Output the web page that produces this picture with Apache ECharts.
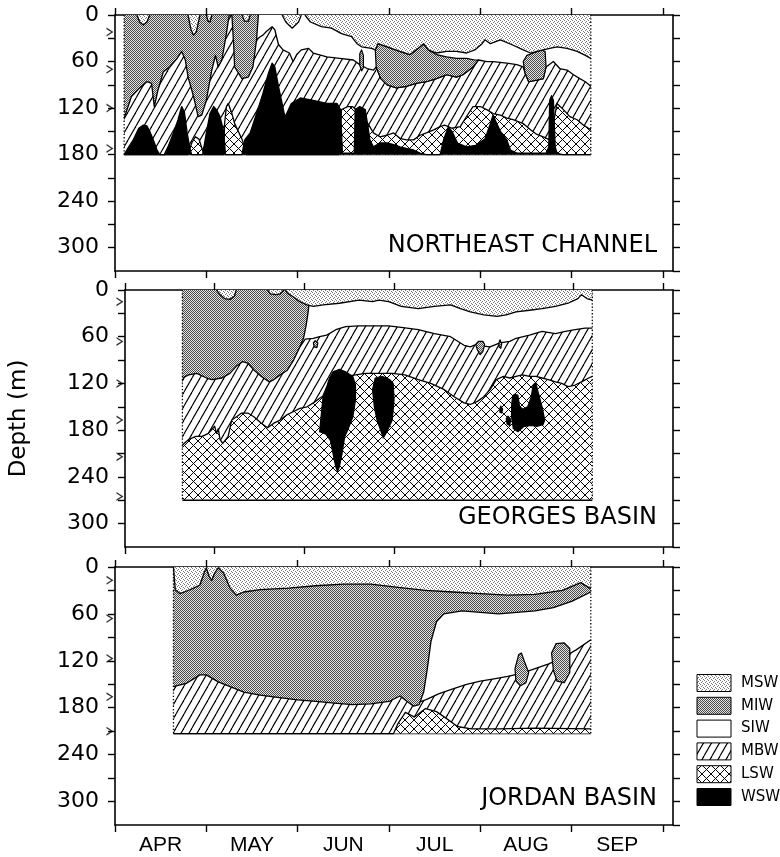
<!DOCTYPE html>
<html>
<head>
<meta charset="utf-8">
<script src="https://cdn.jsdelivr.net/npm/echarts@6/dist/echarts.min.js"></script>
<style>
  html, body { margin: 0; padding: 0; background: #fff; }
  #chart { width: 780px; height: 857px; }
</style>
</head>
<body>
<div id="chart"></div>
<script>
// ---- axis labels ----
const monthLabels = ['APR', 'MAY', 'JUN', 'JUL', 'AUG', 'SEP'];
const monthStarts = [0, 1, 2, 3, 4, 5, 6];          // x in months after 1 April
const depthTickStep = 30;
const depthLabelStep = 60;
const panelNames = ['NORTHEAST CHANNEL', 'GEORGES BASIN', 'JORDAN BASIN'];
const waterMasses = ['MSW', 'MIW', 'SIW', 'MBW', 'LSW', 'WSW'];

// ---- sampled span of each section: [first month, last month, deepest sample (m)] ----
const necSpan = [0.10, 5.21, 180];
const geoSpan = [0.64, 5.21, 270];
const jorSpan = [0.64, 5.21, 213];

// ---- instrument depths marked on the depth axis (m) ----
const necInstruments = [22, 70, 120, 172];
const geoInstruments = [15, 66, 120, 167, 214, 265];
const jorInstruments = [17, 66, 117, 166, 210];

// ================= Northeast Channel =================
// top of the Labrador Slope Water layer [month, depth m]
const necLswTop = [[0.10,180],[0.80,180],[0.84,165],[0.88,157],[0.92,160],[0.96,175],[0.98,180],[1.19,180],[1.20,140],[1.22,118],[1.24,114],[1.28,127],[1.31,140],[1.35,150],[1.39,160],[1.42,170],[1.44,180],[2.45,180],[2.48,122],[2.55,118],[2.60,118],[2.64,122],[2.77,140],[2.83,152],[2.90,157],[2.98,155],[3.05,152],[3.12,159],[3.19,161],[3.27,161],[3.34,155],[3.41,152],[3.49,148],[3.56,144],[3.61,142],[3.69,146],[3.78,144],[3.87,127],[3.92,118],[4.00,118],[4.07,122],[4.14,127],[4.22,129],[4.29,133],[4.36,135],[4.47,140],[4.55,148],[4.62,154],[4.69,157],[4.76,161],[4.80,140],[4.84,114],[4.91,122],[4.98,131],[5.06,135],[5.13,142],[5.21,148]];
// top of the Warm Slope Water layer
const necWswTop = [[0.10,180],[0.14,172],[0.20,161],[0.26,146],[0.31,142],[0.35,143],[0.38,150],[0.42,161],[0.46,174],[0.49,180],[0.54,180],[0.58,170],[0.64,152],[0.69,135],[0.73,118],[0.76,125],[0.79,152],[0.82,172],[0.84,180],[0.96,180],[1.00,152],[1.04,127],[1.08,118],[1.11,122],[1.15,131],[1.19,150],[1.21,180],[1.39,180],[1.42,161],[1.48,152],[1.55,127],[1.62,101],[1.68,75],[1.72,62],[1.75,67],[1.79,92],[1.83,114],[1.86,131],[1.88,127],[1.93,114],[2.03,107],[2.17,110],[2.32,114],[2.43,114],[2.47,122],[2.49,178],[2.62,178],[2.63,122],[2.68,118],[2.74,122],[2.77,144],[2.79,161],[2.83,170],[2.90,165],[2.98,165],[3.05,167],[3.12,170],[3.19,172],[3.27,174],[3.34,178],[3.41,180],[3.56,180],[3.60,160],[3.65,144],[3.69,150],[3.75,165],[3.85,170],[3.95,168],[4.05,160],[4.11,140],[4.14,129],[4.18,140],[4.22,150],[4.29,161],[4.33,174],[4.40,178],[4.72,178],[4.75,170],[4.76,110],[4.78,104],[4.80,110],[4.82,170],[4.84,178],[4.90,180],[5.21,180]];
// bottom of the Shelf Intermediate Water (top of Maine Bottom Water)
const necSiwBottom = [[1.55,32],[1.59,28],[1.62,26],[1.66,21],[1.72,15],[1.75,19],[1.79,38],[1.84,45],[1.91,49],[1.95,60],[1.99,51],[2.04,45],[2.12,43],[2.17,49],[2.32,54],[2.46,56],[2.61,58],[2.68,64],[2.76,69],[2.83,71],[2.86,67],[2.91,82],[2.98,90],[3.08,94],[3.19,92],[3.30,88],[3.41,86],[3.52,82],[3.63,77],[3.74,80],[3.81,77],[3.92,67],[3.98,58],[4.07,60],[4.14,60],[4.29,62],[4.40,64],[4.47,67],[4.49,75],[4.53,86],[4.62,84],[4.69,82],[4.72,67],[4.80,60],[4.87,69],[4.95,71],[5.02,77],[5.09,82],[5.15,86],[5.21,92]];
// bottom of the Maine Intermediate Water in spring
const necMiwBottom = [[0.10,133],[0.18,105],[0.27,94],[0.35,86],[0.40,88],[0.43,118],[0.47,97],[0.53,73],[0.60,67],[0.68,56],[0.73,47],[0.77,58],[0.80,80],[0.86,105],[0.91,131],[0.95,129],[1.00,110],[1.06,71],[1.10,52],[1.13,67],[1.17,58],[1.22,24],[1.25,0],[1.28,0],[1.30,40],[1.31,67],[1.39,82],[1.46,80],[1.51,67],[1.55,32],[1.57,0]];
// Maine Intermediate Water lenses in summer (closed outlines)
const necMiwLens1 = [[2.85,45],[2.88,37],[2.98,41],[3.12,47],[3.23,51],[3.32,43],[3.38,37],[3.43,45],[3.52,51],[3.63,54],[3.74,56],[3.85,56],[3.94,58],[3.98,58],[3.92,67],[3.81,77],[3.74,80],[3.63,77],[3.52,82],[3.41,86],[3.30,88],[3.19,92],[3.08,94],[2.98,90],[2.91,82],[2.86,67]];
const necMiwLens2 = [[4.47,60],[4.51,52],[4.58,49],[4.67,45],[4.71,47],[4.72,67],[4.69,82],[4.62,84],[4.53,86],[4.49,75]];
const necMiwLens3 = [[2.68,50],[2.70,45],[2.72,52],[2.72,68],[2.70,72],[2.68,65]];
// bottom of the Maine Surface Water
const necMswPockets = [
  [[0.24,0],[0.27,9],[0.31,13],[0.35,9],[0.38,0]],
  [[0.80,0],[0.83,18],[0.86,26],[0.89,22],[0.93,0]],
  [[1.00,0],[1.02,8],[1.04,9],[1.06,0]],
  [[1.39,0],[1.42,8],[1.46,8],[1.48,0]],
  [[1.83,0],[1.87,9],[1.94,17],[2.01,9],[2.04,0]]
];
const necMswBottom = [[2.08,0],[2.14,9],[2.26,15],[2.37,17],[2.48,24],[2.59,28],[2.65,37],[2.70,41],[2.81,43],[2.85,45],[2.88,37],[2.98,41],[3.12,47],[3.23,51],[3.32,43],[3.38,37],[3.43,45],[3.52,49],[3.63,47],[3.74,47],[3.85,49],[3.94,45],[4.02,37],[4.05,32],[4.11,37],[4.22,32],[4.36,39],[4.47,45],[4.55,49],[4.62,47],[4.69,45],[4.76,43],[4.84,41],[4.95,43],[5.06,47],[5.15,52],[5.21,56]];

// ================= Georges Basin =================
const geoLswTop = [[0.64,199],[0.71,192],[0.79,188],[0.86,188],[0.93,184],[1.00,175],[1.02,184],[1.04,178],[1.06,192],[1.09,197],[1.15,188],[1.19,167],[1.24,163],[1.30,158],[1.37,158],[1.44,163],[1.52,171],[1.59,177],[1.66,171],[1.73,167],[1.81,160],[1.88,156],[1.95,152],[2.03,150],[2.10,145],[2.17,139],[2.25,133],[2.32,124],[2.39,115],[2.46,111],[2.57,109],[2.68,107],[2.83,107],[2.98,107],[3.12,109],[3.27,115],[3.41,120],[3.56,128],[3.67,137],[3.78,145],[3.85,147],[3.93,143],[4.00,137],[4.07,128],[4.14,115],[4.22,111],[4.29,113],[4.36,111],[4.43,109],[4.51,111],[4.58,111],[4.65,113],[4.72,115],[4.80,118],[4.87,120],[4.94,124],[5.02,122],[5.09,118],[5.17,113],[5.21,111]];
const geoSiwBottom = [[1.95,73],[2.01,63],[2.10,62],[2.17,60],[2.25,58],[2.35,51],[2.46,47],[2.61,46],[2.76,46],[2.94,46],[3.08,48],[3.27,51],[3.45,56],[3.63,60],[3.78,71],[3.85,73],[3.91,70],[4.00,72],[4.07,73],[4.18,68],[4.29,66],[4.36,62],[4.51,58],[4.65,53],[4.80,56],[4.91,53],[5.02,51],[5.13,49],[5.21,49]];
const geoMiwBottom = [[0.64,113],[0.71,109],[0.80,107],[0.91,113],[0.97,115],[1.08,113],[1.17,107],[1.24,98],[1.31,92],[1.37,94],[1.44,103],[1.52,111],[1.61,118],[1.66,115],[1.73,109],[1.81,103],[1.88,90],[1.95,73],[1.99,62],[2.02,45],[2.04,30],[2.05,20]];
const geoMswPockets = [
  [[1.02,0],[1.06,6],[1.11,11],[1.17,12],[1.22,8],[1.24,0]],
  [[1.59,0],[1.62,5],[1.68,6],[1.73,5],[1.77,0]]
];
const geoMswBottom = [[1.79,0],[1.81,4],[1.88,9],[1.95,15],[2.03,19],[2.10,21],[2.21,19],[2.39,17],[2.61,13],[2.76,15],[2.83,13],[2.94,15],[3.08,21],[3.27,24],[3.45,21],[3.63,19],[3.74,24],[3.85,28],[4.00,32],[4.15,34],[4.25,32],[4.36,28],[4.51,26],[4.65,24],[4.80,21],[4.94,17],[5.05,11],[5.09,6],[5.15,11],[5.21,13]];
const geoMiwLenses = [
  [[2.10,68],[2.12,65],[2.15,68],[2.14,74],[2.11,73]],
  [[3.91,70],[3.94,66],[3.99,66],[4.01,70],[3.99,79],[3.96,83],[3.93,77]],
  [[4.17,68],[4.18,64],[4.20,69],[4.19,75],[4.17,73]]
];
const geoWswLenses = [
  [[2.17,182],[2.19,158],[2.21,135],[2.25,124],[2.28,113],[2.32,105],[2.39,102],[2.46,105],[2.54,111],[2.57,122],[2.57,141],[2.54,163],[2.49,178],[2.45,188],[2.42,210],[2.39,227],[2.37,233],[2.35,227],[2.32,210],[2.29,193],[2.24,185]],
  [[2.76,128],[2.79,113],[2.87,111],[2.92,113],[2.96,116],[2.99,120],[3.00,141],[2.98,167],[2.92,182],[2.88,190],[2.85,180],[2.81,167],[2.78,150]],
  [[4.32,137],[4.34,134],[4.38,135],[4.40,150],[4.44,153],[4.49,150],[4.53,137],[4.55,122],[4.58,119],[4.61,133],[4.65,150],[4.68,167],[4.66,173],[4.60,175],[4.53,174],[4.45,175],[4.38,182],[4.33,178],[4.31,163],[4.31,150]],
  [[4.18,152],[4.19,149],[4.21,153],[4.20,158],[4.18,157]],
  [[4.25,165],[4.27,162],[4.30,166],[4.29,174],[4.26,172]]
];

// ================= Jordan Basin =================
const jorLswTop = [[0.64,213],[3.05,213],[3.10,200],[3.18,186],[3.28,192],[3.40,181],[3.52,185],[3.62,193],[3.75,204],[3.90,207],[4.20,207],[4.60,206],[5.21,207]];
const jorSiwBottom = [[3.25,176],[3.40,170],[3.55,162],[3.70,156],[3.85,150],[4.00,146],[4.15,143],[4.30,140],[4.45,136],[4.60,130],[4.75,124],[4.90,116],[5.05,106],[5.21,93]];
const jorMiwBottom = [[0.64,153],[0.78,149],[0.93,138],[1.00,138],[1.13,147],[1.26,153],[1.41,160],[1.59,164],[1.80,167],[2.00,170],[2.20,172],[2.40,174],[2.60,176],[2.80,175],[3.00,172],[3.12,165],[3.20,172],[3.27,178],[3.33,176],[3.38,160],[3.42,130],[3.46,95],[3.52,70],[3.60,60],[3.80,56],[4.00,58],[4.20,60],[4.40,58],[4.60,56],[4.80,52],[5.00,44],[5.21,32]];
const jorMiwLenses = [
  [[4.38,130],[4.42,112],[4.45,110],[4.48,120],[4.53,135],[4.50,148],[4.44,152],[4.39,146]],
  [[4.78,110],[4.83,98],[4.92,97],[4.98,104],[4.98,135],[4.92,148],[4.84,146],[4.80,132]]
];
const jorMswBottom = [[0.64,0],[0.66,29],[0.71,34],[0.78,31],[0.86,27],[0.93,23],[0.98,6],[1.00,1],[1.03,12],[1.06,17],[1.09,8],[1.13,1],[1.19,8],[1.26,27],[1.33,36],[1.41,32],[1.59,29],[1.90,27],[2.20,24],[2.50,22],[2.80,22],[3.10,26],[3.40,30],[3.70,32],[4.00,34],[4.30,36],[4.60,35],[4.90,30],[5.10,20],[5.21,28]];

// ---------------- fill patterns ----------------
function tile(w, h, draw) {
  const c = document.createElement('canvas');
  c.width = w; c.height = h;
  const ctx = c.getContext('2d');
  draw(ctx, w, h);
  return { image: c, repeat: 'repeat' };
}
const fillMSW = tile(4, 4, (ctx) => {
  ctx.fillStyle = '#ffffff'; ctx.fillRect(0, 0, 4, 4);
  ctx.fillStyle = '#7a7a7a';
  [[0,0],[2,1],[1,2],[3,3]].forEach(([x, y]) => ctx.fillRect(x, y, 1, 1));
});
const fillMIW = tile(2, 2, (ctx) => {
  ctx.fillStyle = '#e4e4e4'; ctx.fillRect(0, 0, 2, 2);
  ctx.fillStyle = '#4a4a4a'; ctx.fillRect(0, 0, 1, 1); ctx.fillRect(1, 1, 1, 1);
});
const fillSIW = '#ffffff';
const fillMBW = tile(8, 14, (ctx, w, h) => {
  ctx.fillStyle = '#ffffff'; ctx.fillRect(0, 0, w, h);
  ctx.strokeStyle = '#000'; ctx.lineWidth = 1.15;
  for (let k = -1; k <= 1; k++) {
    ctx.beginPath(); ctx.moveTo(k * w, h); ctx.lineTo(k * w + w, 0); ctx.stroke();
  }
});
const fillLSW = tile(9, 9, (ctx, w, h) => {
  ctx.fillStyle = '#ffffff'; ctx.fillRect(0, 0, w, h);
  ctx.strokeStyle = '#000'; ctx.lineWidth = 1;
  for (let k = -1; k <= 1; k++) {
    ctx.beginPath(); ctx.moveTo(k * w, 0); ctx.lineTo(k * w + w, h); ctx.stroke();
    ctx.beginPath(); ctx.moveTo(k * w, h); ctx.lineTo(k * w + w, 0); ctx.stroke();
  }
});
const fillWSW = '#000000';
const massFills = [fillMSW, fillMIW, fillSIW, fillMBW, fillLSW, fillWSW];

// ---------------- layout ----------------
const INK = '#000';
const X_MAX = 6.11;
const DEPTH_MAX = 330;
const panelTops = [15, 290, 567];
const panelHeights = [256, 257, 258];
const plotLeft = 115, plotWidth = 558;

let zCounter = 10;
const series = [];

// area between a boundary line and a fixed depth (0 = surface, or the section floor)
function boundaryArea(gi, pts, originDepth, fill) {
  series.push({
    type: 'custom', coordinateSystem: 'cartesian2d',
    xAxisIndex: gi * 2, yAxisIndex: gi * 2,
    silent: true, clip: true, z: zCounter++, data: [0],
    renderItem: (params, api) => {
      const line = pts.map(p => api.coord(p));
      const close = [api.coord([pts[pts.length - 1][0], originDepth]), api.coord([pts[0][0], originDepth])];
      return {
        type: 'group', children: [
          { type: 'polygon', shape: { points: line.concat(close) }, style: { fill: fill, stroke: null } },
          { type: 'polyline', shape: { points: line }, style: { fill: null, stroke: INK, lineWidth: 1.3, lineJoin: 'round' } }
        ]
      };
    }
  });
}
// closed lens of one water mass embedded in another
function lens(gi, pts, fill) {
  series.push({
    type: 'custom', coordinateSystem: 'cartesian2d',
    xAxisIndex: gi * 2, yAxisIndex: gi * 2,
    silent: true, clip: true, z: zCounter++, data: [0],
    renderItem: (params, api) => ({
      type: 'polygon', shape: { points: pts.map(p => api.coord(p)) },
      style: { fill: fill, stroke: INK, lineWidth: 1.2, lineJoin: 'round' }
    })
  });
}
// dotted vertical edges of the sampled section
function sectionEdges(gi, span) {
  series.push({
    type: 'custom', coordinateSystem: 'cartesian2d',
    xAxisIndex: gi * 2, yAxisIndex: gi * 2,
    silent: true, clip: true, z: zCounter++, data: [0],
    renderItem: (params, api) => ({
      type: 'group', children: [span[0], span[1]].map(x => ({
        type: 'line',
        shape: { x1: api.coord([x, 0])[0], y1: api.coord([x, 0])[1], x2: api.coord([x, span[2]])[0], y2: api.coord([x, span[2]])[1] },
        style: { stroke: INK, lineWidth: 1.3, lineDash: [1.3, 2] }
      }))
    })
  });
}
function instrumentMarks(gi, depths) {
  series.push({
    type: 'scatter', xAxisIndex: gi * 2, yAxisIndex: gi * 2, clip: false,
    silent: true, z: 50,
    symbol: 'path://M0,0 L10,5 L0,10 L0,8.2 L6.6,5 L0,1.8 Z',
    symbolSize: [7, 9], symbolOffset: [-5, 0],
    itemStyle: { color: INK },
    data: depths.map(d => [0, d])
  });
}

// Northeast Channel (painted from the deepest layer up)
boundaryArea(0, [[necSpan[0], necSpan[2]], [necSpan[1], necSpan[2]]], 0, fillMBW);
boundaryArea(0, necLswTop, necSpan[2], fillLSW);
boundaryArea(0, necWswTop, necSpan[2], fillWSW);
boundaryArea(0, necSiwBottom, 0, fillSIW);
boundaryArea(0, necMiwBottom, 0, fillMIW);
[necMiwLens1, necMiwLens2, necMiwLens3].forEach(p => lens(0, p, fillMIW));
necMswPockets.forEach(p => boundaryArea(0, p, 0, fillMSW));
boundaryArea(0, necMswBottom, 0, fillMSW);
sectionEdges(0, necSpan);
instrumentMarks(0, necInstruments);

// Georges Basin
boundaryArea(1, [[geoSpan[0], geoSpan[2]], [geoSpan[1], geoSpan[2]]], 0, fillLSW);
boundaryArea(1, geoLswTop, 0, fillMBW);
boundaryArea(1, geoSiwBottom, 0, fillSIW);
boundaryArea(1, geoMiwBottom, 0, fillMIW);
geoMswPockets.forEach(p => boundaryArea(1, p, 0, fillMSW));
boundaryArea(1, geoMswBottom, 0, fillMSW);
geoMiwLenses.forEach(p => lens(1, p, fillMIW));
geoWswLenses.forEach(p => lens(1, p, fillWSW));
sectionEdges(1, geoSpan);
instrumentMarks(1, geoInstruments);

// Jordan Basin
boundaryArea(2, [[jorSpan[0], jorSpan[2]], [jorSpan[1], jorSpan[2]]], 0, fillMBW);
boundaryArea(2, jorLswTop, jorSpan[2], fillLSW);
boundaryArea(2, jorSiwBottom, 0, fillSIW);
boundaryArea(2, jorMiwBottom, 0, fillMIW);
jorMiwLenses.forEach(p => lens(2, p, fillMIW));
boundaryArea(2, jorMswBottom, 0, fillMSW);
sectionEdges(2, jorSpan);
instrumentMarks(2, jorInstruments);

// ---------------- axes ----------------
const grid = [], xAxis = [], yAxis = [];
const axisLineStyle = { onZero: false, lineStyle: { color: INK, width: 1.6 } };
const tickStyle = { color: INK, width: 1.4 };
for (let gi = 0; gi < 3; gi++) {
  grid.push({ left: plotLeft, width: plotWidth, top: panelTops[gi], height: panelHeights[gi] });
  xAxis.push({
    gridIndex: gi, type: 'value', position: 'bottom', min: 0, max: X_MAX,
    axisLine: axisLineStyle, splitLine: { show: false },
    axisTick: { customValues: monthStarts, length: 7, lineStyle: tickStyle },
    axisLabel: gi === 2 ? {
      customValues: monthStarts.slice(0, 6).map(m => m + 0.5),
      formatter: v => monthLabels[Math.floor(v)],
      fontFamily: 'Liberation Sans', fontSize: 21, color: INK, margin: 10
    } : { show: false }
  });
  xAxis.push({
    gridIndex: gi, type: 'value', position: 'top', min: 0, max: X_MAX,
    axisLine: axisLineStyle, splitLine: { show: false },
    axisTick: { customValues: monthStarts, length: 7, lineStyle: tickStyle },
    axisLabel: { show: false }
  });
  yAxis.push({
    gridIndex: gi, type: 'value', inverse: true, min: 0, max: DEPTH_MAX, interval: depthTickStep,
    position: 'left',
    axisLine: axisLineStyle, splitLine: { show: false },
    axisTick: { length: 7, lineStyle: tickStyle },
    axisLabel: {
      formatter: v => (v % depthLabelStep === 0 ? String(v) : ''),
      fontFamily: 'DejaVu Sans', fontSize: 22, color: INK, margin: 16, showMaxLabel: false
    },
    name: gi === 1 ? 'Depth (m)' : '', nameLocation: 'middle', nameRotate: 90, nameGap: 94,
    nameTextStyle: { fontFamily: 'DejaVu Sans', fontSize: 23, color: INK }
  });
  yAxis.push({
    gridIndex: gi, type: 'value', inverse: true, min: 0, max: DEPTH_MAX, interval: depthTickStep,
    position: 'right',
    axisLine: axisLineStyle, splitLine: { show: false },
    axisTick: { length: 7, lineStyle: tickStyle },
    axisLabel: { show: false }
  });
}

// ---------------- panel names and legend ----------------
const titleTops = [234, 506, 787];
const title = panelNames.map((t, i) => ({
  text: t, right: 780 - 657, top: titleTops[i], padding: 0,
  textStyle: { fontFamily: 'DejaVu Sans', fontSize: 24, fontWeight: 'normal', color: INK }
}));

const legendChildren = [];
waterMasses.forEach((name, i) => {
  const cy = 683 + i * 22.8;
  legendChildren.push({
    type: 'rect', shape: { x: 697, y: cy - 8.5, width: 34, height: 17 },
    style: { fill: massFills[i], stroke: INK, lineWidth: 1 }
  });
  legendChildren.push({
    type: 'text', x: 741, y: cy,
    style: { text: name, font: '15px "DejaVu Sans"', fill: INK, verticalAlign: 'middle', textVerticalAlign: 'middle' }
  });
});

const chart = echarts.init(document.getElementById('chart'), null, { renderer: 'canvas' });
chart.setOption({
  animation: false,
  backgroundColor: '#fff',
  title,
  grid, xAxis, yAxis, series,
  graphic: [{ type: 'group', silent: true, children: legendChildren }]
});
</script>
</body>
</html>
